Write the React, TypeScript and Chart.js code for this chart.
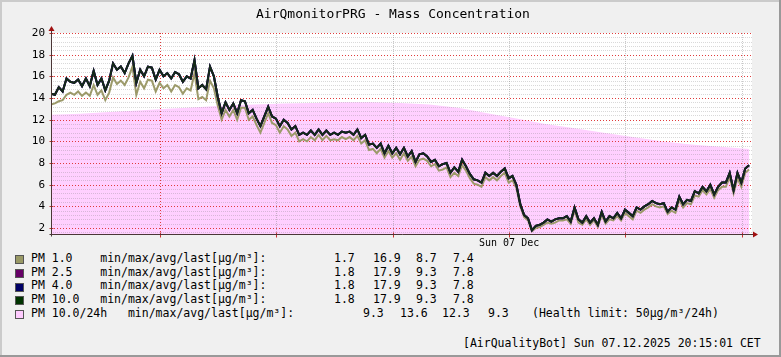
import React, { useEffect, useRef } from 'react';
import { Chart, registerables } from 'chart.js';

Chart.register(...registerables);

// ---- time axis (hours relative to Sun 07 Dec 00:00) ----
const START_HOUR = -3.75; // Sat 06 Dec 20:15
const END_HOUR = 20.35;
const STEP_MINUTES = 8;
const DAILY_STEP_HOURS = 1;
const xMajorGridHours = [0];
const xMinorGridHours = [4, 8, 12, 16, 20];
const xLabelHours = [12];
const xLabelTexts = ['Sun 07 Dec'];

// ---- value axis ----
const Y_MIN = 1.45;
const Y_MAX = 20;
const yTickValues = [2, 4, 6, 8, 10, 12, 14, 16, 18, 20];
const Y_MINOR_STEP = 0.4;

// ---- series (µg/m³) ----
const pm10Values = [
  14.4, 14.3, 15.0, 14.6, 15.8, 15.5, 15.4, 15.7, 15.1, 15.8,
  15.1, 16.5, 15.2, 15.8, 14.7, 15.6, 17.2, 16.6, 16.9, 16.3,
  17.2, 17.9, 15.4, 16.6, 16.0, 16.9, 16.8, 15.7, 16.6, 16.0,
  16.3, 15.8, 16.4, 16.2, 15.5, 16.0, 15.8, 17.5, 14.9, 15.2,
  14.8, 16.9, 16.0, 14.1, 12.6, 13.6, 12.9, 13.5, 12.6, 13.8,
  13.7, 12.6, 12.9, 12.1, 11.4, 12.3, 13.2, 12.3, 12.1, 11.4,
  12.0, 11.7, 11.1, 11.4, 10.6, 10.8, 10.6, 11.0, 10.6, 11.1,
  10.6, 11.0, 10.6, 10.8, 10.6, 10.9, 10.8, 10.9, 10.6, 11.1,
  10.3, 10.6, 9.7, 9.8, 9.4, 9.8, 8.9, 9.6, 8.9, 9.4,
  8.8, 9.4, 8.6, 9.1, 8.1, 8.8, 8.9, 8.6, 8.1, 8.3,
  7.7, 7.9, 8.0, 7.1, 7.6, 7.2, 8.3, 7.7, 7.0, 6.5,
  6.4, 6.2, 7.1, 6.8, 7.1, 6.8, 7.2, 7.5, 6.6, 6.8,
  6.0, 4.2, 3.2, 2.9, 1.8, 2.2, 2.3, 2.5, 2.8, 2.6,
  2.8, 2.9, 2.9, 3.1, 2.6, 3.9, 2.8, 2.5, 3.1, 2.5,
  2.9, 2.3, 3.5, 2.6, 3.1, 2.9, 3.4, 2.9, 3.7, 3.4,
  3.1, 3.9, 3.7, 4.0, 4.2, 4.5, 4.3, 4.2, 4.3, 3.5,
  3.9, 3.7, 4.9, 4.2, 4.6, 4.5, 5.4, 5.2, 5.8, 5.4,
  6.0, 5.1, 5.8, 6.2, 6.2, 7.1, 5.5, 7.1, 6.2, 7.5, 7.8,
];
const pm40Values = pm10Values.slice();
const pm25Values = pm10Values.slice();
const pm1Values = [
  13.4, 13.5, 13.7, 13.8, 14.3, 14.5, 14.3, 14.6, 14.2, 14.5,
  14.2, 15.2, 14.3, 14.7, 13.8, 14.5, 15.9, 15.3, 15.6, 15.2,
  15.9, 16.9, 14.3, 15.5, 14.9, 15.7, 15.6, 14.6, 15.4, 14.9,
  15.2, 14.6, 15.2, 15.0, 14.4, 14.9, 14.7, 16.3, 13.9, 14.1,
  13.8, 15.6, 14.9, 13.3, 12.0, 12.9, 12.3, 12.9, 12.0, 13.1,
  13.1, 12.0, 12.3, 11.5, 10.8, 11.7, 12.6, 11.7, 11.5, 10.8,
  11.4, 11.1, 10.5, 10.8, 10.0, 10.2, 10.0, 10.4, 10.1, 10.6,
  10.1, 10.5, 10.1, 10.2, 10.1, 10.4, 10.2, 10.4, 10.1, 10.5,
  9.8, 10.1, 9.2, 9.3, 8.9, 9.3, 8.5, 9.1, 8.5, 8.9,
  8.3, 8.9, 8.2, 8.6, 7.7, 8.3, 8.4, 8.2, 7.7, 7.9,
  7.3, 7.4, 7.6, 6.7, 7.1, 6.8, 7.8, 7.3, 6.6, 6.1,
  6.0, 5.8, 6.7, 6.4, 6.7, 6.4, 6.8, 7.1, 6.2, 6.4,
  5.7, 4.0, 3.0, 2.7, 1.7, 2.0, 2.1, 2.3, 2.5, 2.4,
  2.5, 2.7, 2.7, 2.8, 2.4, 3.6, 2.5, 2.3, 2.8, 2.3,
  2.7, 2.1, 3.2, 2.4, 2.8, 2.7, 3.1, 2.7, 3.4, 3.1,
  2.8, 3.6, 3.4, 3.7, 3.9, 4.2, 4.0, 3.9, 4.0, 3.3,
  3.6, 3.4, 4.6, 3.9, 4.3, 4.2, 5.0, 4.9, 5.5, 5.1,
  5.6, 4.8, 5.5, 5.8, 5.8, 6.7, 5.2, 6.6, 5.8, 7.1, 7.4,
];
const pm10DailyValues = [
  12.45, 12.55, 12.7, 12.85, 13.0, 13.15, 13.3, 13.4, 13.5, 13.55,
  13.6, 13.6, 13.55, 13.4, 13.1, 12.6, 12.1, 11.6, 11.2, 10.8,
  10.4, 10.0, 9.7, 9.5, 9.3,
];

// ---- texts ----
const titleText = 'AirQmonitorPRG - Mass Concentration';
const legendLabels = [
  'PM 1.0    min/max/avg/last[µg/m³]:',
  'PM 2.5    min/max/avg/last[µg/m³]:',
  'PM 4.0    min/max/avg/last[µg/m³]:',
  'PM 10.0   min/max/avg/last[µg/m³]:',
  'PM 10.0/24h   min/max/avg/last[µg/m³]:',
];
const legendColors = ['#999966', '#660066', '#000066', '#003300', '#ffccff'];
const legendStats = [
  ['1.7', '16.9', '8.7', '7.4'],
  ['1.8', '17.9', '9.3', '7.8'],
  ['1.8', '17.9', '9.3', '7.8'],
  ['1.8', '17.9', '9.3', '7.8'],
  ['9.3', '13.6', '12.3', '9.3'],
];
const healthNote = '(Health limit: 50µg/m³/24h)';
const footerText = '[AirQualityBot] Sun 07.12.2025 20:15:01 CET';

const MONO = '"DejaVu Sans Mono", monospace';
const PINK = '#ffd0ff';

function toPoints(values: number[], start: number, stepHours: number) {
  return values.map((v, i) => ({ x: start + i * stepHours, y: v }));
}

function hLine(ctx: CanvasRenderingContext2D, x0: number, x1: number, y: number) {
  ctx.beginPath();
  ctx.moveTo(x0, y);
  ctx.lineTo(x1, y);
  ctx.stroke();
}
function vLine(ctx: CanvasRenderingContext2D, x: number, y0: number, y1: number) {
  ctx.beginPath();
  ctx.moveTo(x, y0);
  ctx.lineTo(x, y1);
  ctx.stroke();
}

const rrdPlugin = {
  id: 'rrdLook',
  beforeDraw(chart: any) {
    const { ctx, chartArea: a } = chart;
    ctx.save();
    ctx.fillStyle = '#ffffff';
    ctx.fillRect(a.left, a.top, a.right - a.left, a.bottom - a.top);
    ctx.restore();
  },
  afterDatasetDraw(chart: any, args: any) {
    const ds = chart.data.datasets[args.index];
    if (!ds || ds.label !== 'PM 10.0/24h') return;
    const { ctx, chartArea: a } = chart;
    const xs = chart.scales.x;
    const ys = chart.scales.y;
    ctx.save();
    ctx.lineWidth = 1;
    ctx.setLineDash([1, 1]);
    // minor horizontal
    ctx.strokeStyle = 'rgba(120,120,120,0.28)';
    for (let k = Math.ceil(Y_MIN / Y_MINOR_STEP); k * Y_MINOR_STEP <= Y_MAX + 1e-6; k++) {
      const v = k * Y_MINOR_STEP;
      if (Math.abs(v / 2 - Math.round(v / 2)) < 1e-6) continue;
      hLine(ctx, a.left, a.right, Math.round(ys.getPixelForValue(v)) + 0.5);
    }
    // minor vertical
    ctx.strokeStyle = 'rgba(120,120,120,0.4)';
    for (const h of xMinorGridHours) {
      vLine(ctx, Math.round(xs.getPixelForValue(h)) + 0.5, a.top, a.bottom);
    }
    // major (dotted red)
    ctx.strokeStyle = '#e03c3c';
    ctx.setLineDash([1, 2]);
    for (const v of yTickValues) {
      hLine(ctx, a.left, a.right, Math.round(ys.getPixelForValue(v)) + 0.5);
    }
    for (const h of xMajorGridHours) {
      vLine(ctx, Math.round(xs.getPixelForValue(h)) + 0.5, a.top, a.bottom);
    }
    ctx.restore();
  },
  afterDatasetsDraw(chart: any) {
    const { ctx, chartArea: a } = chart;
    const xs = chart.scales.x;
    const ys = chart.scales.y;
    ctx.save();
    ctx.setLineDash([]);
    ctx.lineWidth = 1;
    const ax = Math.round(a.left) + 0.5;
    const ay = Math.round(a.bottom) + 0.5;
    // ticks
    ctx.strokeStyle = '#c83030';
    for (const v of yTickValues) {
      hLine(ctx, ax - 2, ax + 2, Math.round(ys.getPixelForValue(v)) + 0.5);
    }
    for (const h of [...xMajorGridHours, ...xMinorGridHours]) {
      vLine(ctx, Math.round(xs.getPixelForValue(h)) + 0.5, ay - 2, ay + 3);
    }
    // axes
    ctx.strokeStyle = '#4a3636';
    vLine(ctx, ax, ay + 2, a.top - 4);
    hLine(ctx, ax - 2, a.right + 3, ay);
    // arrows
    ctx.fillStyle = '#a01010';
    ctx.beginPath();
    ctx.moveTo(ax, a.top - 7);
    ctx.lineTo(ax - 3, a.top - 2);
    ctx.lineTo(ax + 3, a.top - 2);
    ctx.closePath();
    ctx.fill();
    ctx.beginPath();
    ctx.moveTo(a.right + 6, ay);
    ctx.lineTo(a.right + 1, ay - 3);
    ctx.lineTo(a.right + 1, ay + 3);
    ctx.closePath();
    ctx.fill();
    ctx.restore();
  },
};

export default function App() {
  const ref = useRef<HTMLCanvasElement>(null);

  useEffect(() => {
    if (!ref.current) return;
    const step = STEP_MINUTES / 60;
    const lineDs = (label: string, values: number[], color: string, order: number) => ({
      label,
      data: toPoints(values, START_HOUR, step),
      borderColor: color,
      backgroundColor: color,
      borderWidth: 2,
      pointRadius: 0,
      tension: 0,
      fill: false,
      order,
    });
    const chart = new Chart(ref.current, {
      type: 'line',
      data: {
        datasets: [
          lineDs('PM 1.0', pm1Values, '#9c9a6a', 3),
          lineDs('PM 2.5', pm25Values, '#660066', 2),
          lineDs('PM 4.0', pm40Values, '#000066', 1),
          lineDs('PM 10.0', pm10Values, '#152a17', 0),
          {
            label: 'PM 10.0/24h',
            data: toPoints(pm10DailyValues, START_HOUR, DAILY_STEP_HOURS),
            borderWidth: 0,
            borderColor: PINK,
            backgroundColor: PINK,
            pointRadius: 0,
            tension: 0,
            fill: 'start',
            order: 4,
          } as any,
        ],
      },
      options: {
        animation: false,
        responsive: false,
        maintainAspectRatio: false,
        devicePixelRatio: 1,
        layout: { padding: { left: 0, right: 29, top: 33, bottom: 0 } },
        plugins: {
          legend: { display: false },
          tooltip: { enabled: false },
          title: { display: false },
        },
        scales: {
          x: {
            type: 'linear',
            min: START_HOUR,
            max: END_HOUR,
            grid: { display: false, drawTicks: false },
            border: { display: false },
            afterBuildTicks: (s: any) => {
              s.ticks = xLabelHours.map((v) => ({ value: v }));
            },
            afterFit: (s: any) => {
              s.height = 16;
            },
            ticks: {
              autoSkip: false,
              maxRotation: 0,
              padding: 3,
              color: '#000',
              font: { family: MONO, size: 10 },
              callback: (v: any) => {
                const i = xLabelHours.indexOf(Number(v));
                return i >= 0 ? xLabelTexts[i] : '';
              },
            },
          },
          y: {
            type: 'linear',
            min: Y_MIN,
            max: Y_MAX,
            grid: { display: false, drawTicks: false },
            border: { display: false },
            afterBuildTicks: (s: any) => {
              s.ticks = yTickValues.map((v) => ({ value: v }));
            },
            afterFit: (s: any) => {
              s.width = 51;
            },
            ticks: {
              padding: 6,
              color: '#000',
              font: { family: MONO, size: 11 },
              callback: (v: any) => String(v),
            },
          },
        },
      },
      plugins: [rrdPlugin],
    } as any);
    return () => chart.destroy();
  }, []);

  const rowCenters = [259.5, 273.3, 287, 300.8, 314.6];
  const statX = [
    [334, 373, 416, 453],
    [334, 373, 416, 453],
    [334, 373, 416, 453],
    [334, 373, 416, 453],
    [363, 400, 442, 488],
  ];
  const txt = (s: string, left: number, center: number, size: number, key: string) => (
    <span
      key={key}
      style={{
        position: 'absolute',
        left,
        top: center - size / 2 - 1,
        fontFamily: MONO,
        fontSize: size,
        lineHeight: `${size}px`,
        whiteSpace: 'pre',
        color: '#000',
      }}
    >
      {s}
    </span>
  );

  return (
    <div
      style={{
        position: 'absolute',
        left: 0,
        top: 0,
        width: 781,
        height: 357,
        background: '#f0f0f0',
        overflow: 'hidden',
      }}
    >
      <canvas
        ref={ref}
        width={781}
        height={250}
        style={{ position: 'absolute', left: 0, top: 0, width: 781, height: 250 }}
      />
      {txt(titleText, 256, 14, 13, 'title')}
      {legendLabels.map((l, i) => (
        <React.Fragment key={'row' + i}>
          <div
            style={{
              position: 'absolute',
              left: 15,
              top: rowCenters[i] - 4.5,
              width: 7,
              height: 7,
              background: legendColors[i],
              border: '1px solid #555',
            }}
          />
          {txt(l, 31, rowCenters[i], 11.5, 'l' + i)}
          {legendStats[i].map((s, j) => txt(s, statX[i][j], rowCenters[i], 11.5, 's' + i + '_' + j))}
        </React.Fragment>
      ))}
      {txt(healthNote, 532, rowCenters[4], 11.5, 'health')}
      {txt(footerText, 463, 345, 11.5, 'footer')}
      <div style={{ position: 'absolute', left: 0, top: 0, width: 781, height: 2, background: '#cbcbcb' }} />
      <div style={{ position: 'absolute', left: 0, top: 0, width: 2, height: 357, background: '#cbcbcb' }} />
      <div style={{ position: 'absolute', left: 0, top: 355, width: 781, height: 2, background: '#999999' }} />
      <div style={{ position: 'absolute', left: 779, top: 0, width: 2, height: 357, background: '#999999' }} />
    </div>
  );
}
